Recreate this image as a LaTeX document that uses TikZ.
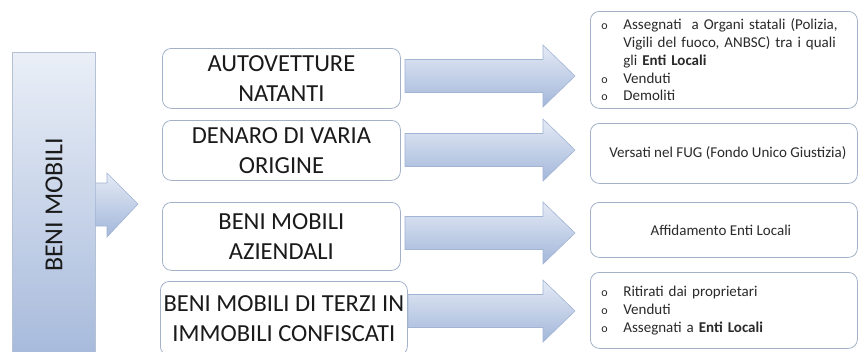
\documentclass[tikz,border=0pt]{standalone}
\usepackage{fontspec}
\setmainfont{Carlito}
\usetikzlibrary{calc}
\definecolor{barTop}{HTML}{EAEFF7}
\definecolor{barBot}{HTML}{A6B9DB}
\definecolor{arrTop}{HTML}{E4EAF5}
\definecolor{arrBot}{HTML}{A3B7DA}
\definecolor{arrLine}{HTML}{A2B4D4}
\definecolor{boxLine}{HTML}{A3B1C9}
\definecolor{txt}{HTML}{1A1A1A}
\definecolor{rtxt}{HTML}{2A2A2A}
\tikzset{
  mbox/.style={draw=boxLine, line width=0.8pt, rounded corners=9pt, fill=white,
    anchor=north west, inner sep=0pt, align=center, text=txt,
    font=\fontsize{24.5}{30}\selectfont},
  rbox/.style={draw=boxLine, line width=0.8pt, rounded corners=9pt, fill=white,
    anchor=north west, inner sep=0pt, text=rtxt,
    font=\fontsize{15}{17.8}\selectfont},
  arrowfill/.style={top color=arrTop, bottom color=arrBot, draw=arrLine, line width=0.6pt},
}
\newcommand{\bul}{\makebox[33pt][l]{\hspace*{11pt}\fontsize{12}{14}\selectfont o}}
\newcommand{\ind}{\hspace*{33pt}}
\newcommand{\myarrow}[4]{%
  \path[arrowfill] (#1,#4-16.5) -- (#2,#4-16.5) -- (#2,#4-31) -- (#3,#4) -- (#2,#4+31) -- (#2,#4+16.5) -- (#1,#4+16.5) -- cycle;}
\begin{document}
\begin{tikzpicture}[x=1pt,y=-1pt]
\useasboundingbox (0,0) rectangle (859,351);
\clip (0,0) rectangle (859,351);
\fill[white] (0,0) rectangle (859,351);
% left bar
\node[draw=boxLine!80, line width=0.6pt, top color=barTop, bottom color=barBot,
  anchor=north west, minimum width=83pt, minimum height=310pt, inner sep=0pt] (bar) at (12,52) {};
\node[rotate=90, text=txt, font=\fontsize{26}{30}\selectfont] (barlabel) at (54,205) {BENI MOBILI};
% arrow from bar
\path[arrowfill] (bar.east |- 0,183) -- (107,183) -- (107,173) -- (138,204) -- (107,237) -- (107,226) -- (bar.east |- 0,226) -- cycle;
% middle boxes
\node[mbox, minimum width=238pt, minimum height=60pt] (m1) at (162,48) {AUTOVETTURE\\NATANTI};
\node[mbox, minimum width=238pt, minimum height=60pt] (m2) at (162,120) {DENARO DI VARIA\\ORIGINE};
\node[mbox, minimum width=238pt, minimum height=68pt] (m3) at (162,202) {BENI MOBILI\\AZIENDALI};
\node[mbox, minimum width=247pt, minimum height=74pt] (m4) at (160,281) {BENI MOBILI DI TERZI IN\\IMMOBILI CONFISCATI};
% block arrows
\myarrow{405}{543}{575}{76}
\myarrow{405}{543}{575}{150}
\myarrow{405}{543}{575}{233}
\myarrow{408}{543}{575}{311}
% right boxes
\node[rbox, minimum width=267pt, minimum height=97pt, text width=267pt, align=left] (r1) at (590,11)
  {\bul Assegnati~ a Organi statali (Polizia,\\
   \ind Vigili del fuoco, ANBSC) tra i quali\\
   \ind gli \textbf{Enti Locali}\\
   \bul Venduti\\
   \bul Demoliti};
\node[rbox, minimum width=267pt, minimum height=60pt, align=center] (r2) at (590,123)
  {\hspace*{8pt}Versati nel FUG (Fondo Unico Giustizia)};
\node[rbox, minimum width=267pt, minimum height=55pt, align=center] (r3) at (590,202)
  {\hspace*{-6pt}Affidamento Enti Locali};
\node[rbox, minimum width=267pt, minimum height=76pt, text width=267pt, align=left] (r4) at (590,272)
  {\bul Ritirati dai proprietari\\
   \bul Venduti\\
   \bul Assegnati a \textbf{Enti Locali}};
\end{tikzpicture}
\end{document}
